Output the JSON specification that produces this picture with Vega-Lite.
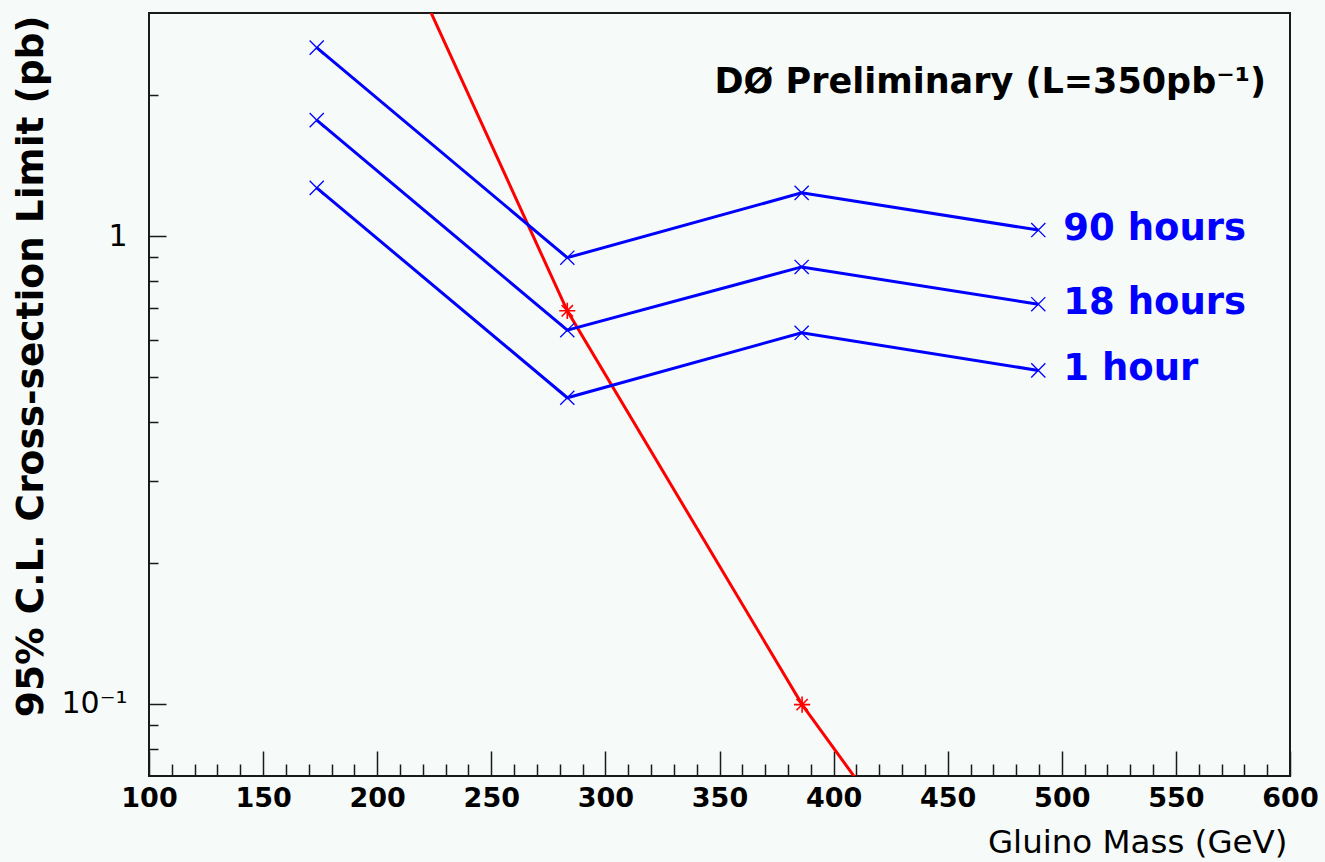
{
  "$schema": "https://vega.github.io/schema/vega-lite/v6.json",
  "width": 1141,
  "height": 763,
  "autosize": {"type": "none"},
  "padding": {"left": 149, "top": 13, "right": 35, "bottom": 86},
  "background": "#f6faf8",
  "config": {
    "view": {"stroke": "#1a1a1a", "strokeWidth": 2},
    "font": "DejaVu Sans",
    "axis": {"grid": false, "domain": false, "labelColor": "#000000", "titleColor": "#000000", "tickColor": "#1a1a1a"}
  },
  "datasets": {
    "limits": [
      {"mass": 173.5, "limit": 2.53, "series": "90 hours"},
      {"mass": 283.3, "limit": 0.899, "series": "90 hours"},
      {"mass": 386.0, "limit": 1.237, "series": "90 hours"},
      {"mass": 489.7, "limit": 1.03, "series": "90 hours"},
      {"mass": 173.5, "limit": 1.77, "series": "18 hours"},
      {"mass": 283.3, "limit": 0.629, "series": "18 hours"},
      {"mass": 386.0, "limit": 0.859, "series": "18 hours"},
      {"mass": 489.7, "limit": 0.715, "series": "18 hours"},
      {"mass": 173.5, "limit": 1.268, "series": "1 hour"},
      {"mass": 283.3, "limit": 0.451, "series": "1 hour"},
      {"mass": 386.0, "limit": 0.621, "series": "1 hour"},
      {"mass": 489.7, "limit": 0.516, "series": "1 hour"}
    ],
    "theory": [
      {"mass": 173.5, "xsec": 10.3},
      {"mass": 283.3, "xsec": 0.692},
      {"mass": 386.2, "xsec": 0.0995},
      {"mass": 489.7, "xsec": 0.02}
    ],
    "note": [{"label": "DØ Preliminary (L=350pb⁻¹)"}]
  },
  "resolve": {"axis": {"x": "independent", "y": "independent"}},
  "layer": [
    {
      "data": {"name": "theory"},
      "mark": {"type": "line", "color": "#ff0000", "strokeWidth": 3, "clip": true},
      "encoding": {
        "x": {"field": "mass", "type": "quantitative",
          "scale": {"domain": [100, 600], "nice": false, "zero": false},
          "axis": {"orient": "bottom", "values": [100,150,200,250,300,350,400,450,500,550,600],
            "ticks": false, "labelFontWeight": "bold", "labelFontSize": 27, "labelPadding": 9, "labelFlush": false,
            "title": "Gluino Mass (GeV)", "titleFontWeight": "normal", "titleFontSize": 32.5,
            "titleAlign": "right", "titleAnchor": "end", "titleBaseline": "alphabetic", "titleX": 1138, "titleY": 76}},
        "y": {"field": "xsec", "type": "quantitative",
          "scale": {"type": "log", "domain": [0.07, 3], "nice": false},
          "axis": {"orient": "left", "values": [0.1, 1], "ticks": false,
            "labelExpr": "datum.value == 1 ? '1' : '10⁻¹'", "labelFontSize": 30, "labelFontWeight": "normal", "labelPadding": 22,
            "title": "95% C.L. Cross-section Limit (pb)", "titleFontWeight": "bold", "titleFontSize": 37.5,
            "titleAngle": -90, "titleAlign": "right", "titleBaseline": "alphabetic", "titleX": -107, "titleY": 2}}
      }
    },
    {
      "data": {"name": "theory"},
      "mark": {"type": "point", "shape": "M-1,0L1,0M0,-1L0,1M-0.7,-0.7L0.7,0.7M-0.7,0.7L0.7,-0.7", "filled": false, "stroke": "#ff0000", "strokeWidth": 1.6, "size": 260, "clip": true, "opacity": 1},
      "encoding": {
        "x": {"field": "mass", "type": "quantitative",
          "scale": {"domain": [100, 600], "nice": false, "zero": false},
          "axis": {"orient": "bottom", "values": [100,150,200,250,300,350,400,450,500,550,600],
            "labels": false, "tickSize": -25, "tickWidth": 1.5, "title": null}},
        "y": {"field": "xsec", "type": "quantitative",
          "scale": {"type": "log", "domain": [0.07, 3], "nice": false},
          "axis": {"orient": "left", "values": [0.1, 1], "labels": false, "tickSize": -17, "tickWidth": 1.5, "title": null}}
      }
    },
    {
      "data": {"name": "limits"},
      "mark": {"type": "line", "color": "#0000ff", "strokeWidth": 3},
      "encoding": {
        "detail": {"field": "series"},
        "x": {"field": "mass", "type": "quantitative",
          "scale": {"domain": [100, 600], "nice": false, "zero": false},
          "axis": {"orient": "bottom", "values": [110,120,130,140,160,170,180,190,210,220,230,240,260,270,280,290,310,320,330,340,360,370,380,390,410,420,430,440,460,470,480,490,510,520,530,540,560,570,580,590],
            "labels": false, "tickSize": -12, "tickWidth": 1.5, "title": null}},
        "y": {"field": "limit", "type": "quantitative",
          "scale": {"type": "log", "domain": [0.07, 3], "nice": false},
          "axis": {"orient": "left", "values": [0.08, 0.09, 0.2, 0.3, 0.4, 0.5, 0.6, 0.7, 0.8, 0.9, 2],
            "labels": false, "tickSize": -9, "tickWidth": 1.5, "title": null}}
      }
    },
    {
      "data": {"name": "limits"},
      "mark": {"type": "point", "shape": "M-1,-1L1,1M-1,1L1,-1", "filled": false, "stroke": "#0000ff", "strokeWidth": 1.3, "size": 200, "opacity": 1},
      "encoding": {
        "x": {"field": "mass", "type": "quantitative", "scale": {"domain": [100, 600], "nice": false, "zero": false}, "axis": null},
        "y": {"field": "limit", "type": "quantitative", "scale": {"type": "log", "domain": [0.07, 3], "nice": false}, "axis": null}
      }
    },
    {
      "data": {"name": "limits"},
      "transform": [{"filter": "datum.mass > 480"}],
      "mark": {"type": "text", "align": "left", "baseline": "alphabetic", "dx": 25, "dy": 10, "fontSize": 37, "fontWeight": "bold", "color": "#0000ff"},
      "encoding": {
        "x": {"field": "mass", "type": "quantitative", "scale": {"domain": [100, 600], "nice": false, "zero": false}, "axis": null},
        "y": {"field": "limit", "type": "quantitative", "scale": {"type": "log", "domain": [0.07, 3], "nice": false}, "axis": null},
        "text": {"field": "series"}
      }
    },
    {
      "data": {"name": "note"},
      "mark": {"type": "text", "align": "right", "baseline": "alphabetic", "fontSize": 35, "fontWeight": "bold", "color": "#000000"},
      "encoding": {
        "x": {"datum": 589.5, "type": "quantitative", "scale": {"domain": [100, 600], "nice": false, "zero": false}, "axis": null},
        "y": {"datum": 2.02, "type": "quantitative", "scale": {"type": "log", "domain": [0.07, 3], "nice": false}, "axis": null},
        "text": {"field": "label"}
      }
    }
  ]
}
